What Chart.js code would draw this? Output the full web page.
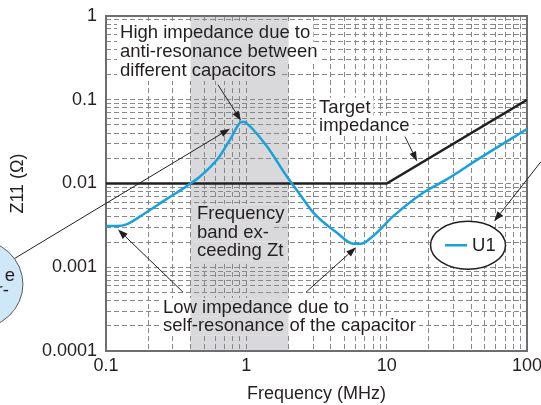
<!DOCTYPE html>
<html><head><meta charset="utf-8">
<script src="https://cdn.jsdelivr.net/npm/chart.js@4.4.1/dist/chart.umd.min.js"></script>
<style>html,body{margin:0;padding:0;background:#fff}#wrap{width:541px;height:405px}</style>
</head><body><div id="wrap"><canvas id="c" width="541" height="405"></canvas></div>
<script>
// ---- data ----
const freqU1 = [0.1, 0.12, 0.14, 0.185, 0.27, 0.376, 0.47, 0.63, 0.765, 0.90, 0.95, 1.03, 1.40, 1.94, 2.41, 3.0, 4.4, 5.8, 6.6, 8.0, 11.2, 18.3, 26.8, 46.3, 100];
const zU1    = [0.0031, 0.0031, 0.00325, 0.0043, 0.0065, 0.0093, 0.0122, 0.020, 0.0334, 0.0528, 0.0545, 0.0505, 0.0278, 0.0122, 0.0074, 0.0045, 0.0026, 0.00191, 0.00191, 0.00236, 0.0041, 0.0078, 0.0112, 0.0202, 0.0448];
const freqTarget = [0.1, 10, 100];
const zTarget    = [0.01, 0.01, 0.1];
const bandRange = [0.4, 2];
const xTickValues = [0.1,0.2,0.3,0.4,0.5,0.6,0.7,0.8,0.9,1,2,3,4,5,6,7,8,9,10,20,30,40,50,60,70,80,90,100];
const yTickValues = [0.0001,0.0002,0.0003,0.0004,0.0005,0.0006,0.0007,0.0008,0.0009,0.001,0.002,0.003,0.004,0.005,0.006,0.007,0.008,0.009,0.01,0.02,0.03,0.04,0.05,0.06,0.07,0.08,0.09,0.1,0.2,0.3,0.4,0.5,0.6,0.7,0.8,0.9,1];
const xTickLabels = ['0.1','1','10','100'];
const yTickLabels = ['0.0001','0.001','0.01','0.1','1'];
const seriesLabel = 'U1';

// ---- annotations (anchored in data coordinates) ----
const notes = [
  {lines:['High impedance due to','anti-resonance between','different capacitors'], at:[0.1259,0.547], lh:19},
  {lines:['Target','impedance'], at:[3.30,0.070], lh:18},
  {lines:['Frequency','band ex-','ceeding Zt'], at:[0.445,0.00373], lh:18.5},
  {lines:['Low impedance due to','self-resonance of the capacitor'], at:[0.2548,0.000283], lh:18}
];
const arrows = [
  {from:[0.628,0.151], to:[0.917,0.0562]},
  {from:[13.5,0.0363], to:[16.5,0.0183]},
  {from:[0.354,0.000504], to:[0.1218,0.00283]},
  {from:[2.665,0.000504], to:[6.05,0.00173]},
  {from:[0.0207,0.00118], to:[0.765,0.0452]},
  {from:[126,0.0183], to:[58.3,0.00353]}
];
const legendAt = [38.0, 0.00183];
const sideNoteAt = [0.01164, 0.000628];

const FONT = '"Liberation Sans", Arial, Helvetica, sans-serif';
const TXT = '#231f20';
const BLUE = '#17a2de';
const BAND = '#d9d9db';

function isDecade(v){ const l=Math.log10(v); return Math.abs(l-Math.round(l))<1e-9; }
function decadeLabel(v, list){ const idx = Math.round(Math.log10(v)) - Math.round(Math.log10(parseFloat(list[0]))); return list[idx] || ''; }

function px(chart, p){ return [chart.scales.x.getPixelForValue(p[0]), chart.scales.y.getPixelForValue(p[1])]; }

function boxes(chart){
  const ctx = chart.ctx; const out=[];
  ctx.save(); ctx.font = '18.5px ' + FONT;
  notes.forEach(n=>{
    const [x0,y0] = px(chart,n.at);
    n.lines.forEach((t,i)=>{
      const w = ctx.measureText(t).width;
      out.push({x:x0-3, y:y0+i*n.lh-15, w:w+6, h:n.lh+1});
    });
  });
  ctx.restore();
  return out;
}

const customDraw = {
  id:'customDraw',
  beforeDraw(chart){
    const {ctx, chartArea:a} = chart;
    const xs = chart.scales.x;
    const b0 = xs.getPixelForValue(bandRange[0]), b1 = xs.getPixelForValue(bandRange[1]);
    ctx.save(); ctx.fillStyle = BAND; ctx.fillRect(b0, a.top, b1-b0, a.bottom-a.top); ctx.restore();
  },
  beforeDatasetsDraw(chart){
    const {ctx, chartArea:a} = chart;
    const xs = chart.scales.x;
    const b0 = xs.getPixelForValue(bandRange[0]), b1 = xs.getPixelForValue(bandRange[1]);
    ctx.save();
    boxes(chart).forEach(r=>{
      ctx.fillStyle='#fff'; ctx.fillRect(r.x,r.y,r.w,r.h);
      const l=Math.max(r.x,b0), rr=Math.min(r.x+r.w,b1);
      if(rr>l){ ctx.fillStyle=BAND; ctx.fillRect(l,r.y,rr-l,r.h); }
    });
    ctx.strokeStyle='#6d6e71'; ctx.lineWidth=2;
    ctx.strokeRect(a.left, a.top, a.right-a.left, a.bottom-a.top);
    ctx.restore();
  },
  afterDraw(chart){
    const ctx = chart.ctx;
    ctx.save();
    // arrows
    ctx.strokeStyle='#231f20'; ctx.fillStyle='#231f20'; ctx.lineWidth=1;
    arrows.forEach(a=>{
      const [x1,y1]=px(chart,a.from), [x2,y2]=px(chart,a.to);
      const ang=Math.atan2(y2-y1,x2-x1), L=10, W=3.5;
      const bx=x2-L*Math.cos(ang), by=y2-L*Math.sin(ang);
      ctx.beginPath(); ctx.moveTo(x1,y1); ctx.lineTo(bx,by); ctx.stroke();
      ctx.beginPath(); ctx.moveTo(x2,y2);
      ctx.lineTo(bx+W*Math.sin(ang), by-W*Math.cos(ang));
      ctx.lineTo(bx-W*Math.sin(ang), by+W*Math.cos(ang));
      ctx.closePath(); ctx.fill();
    });
    // side note ellipse (partially off canvas)
    const [sx,sy]=px(chart,sideNoteAt);
    ctx.beginPath(); ctx.ellipse(sx,sy,48,45,0,0,Math.PI*2);
    ctx.fillStyle='#cfe8f7'; ctx.fill(); ctx.strokeStyle='#58595b'; ctx.lineWidth=1; ctx.stroke();
    ctx.fillStyle=TXT; ctx.font='18.5px '+FONT; ctx.textAlign='right'; ctx.textBaseline='alphabetic';
    ctx.fillText('e', sx+40, sy-3);
    ctx.fillText('r-', sx+34, sy+12);
    // texts
    ctx.textAlign='left';
    notes.forEach(n=>{
      const [x0,y0]=px(chart,n.at);
      n.lines.forEach((t,i)=>ctx.fillText(t,x0,y0+i*n.lh));
    });
    // legend ellipse
    const [lx,ly]=px(chart,legendAt);
    ctx.beginPath(); ctx.ellipse(lx,ly,37.5,24,0,0,Math.PI*2);
    ctx.fillStyle='#fff'; ctx.fill(); ctx.strokeStyle='#231f20'; ctx.lineWidth=1.5; ctx.stroke();
    const ds = chart.data.datasets[0];
    ctx.strokeStyle=ds.borderColor; ctx.lineWidth=2.5;
    ctx.beginPath(); ctx.moveTo(lx-23,ly); ctx.lineTo(lx-1,ly); ctx.stroke();
    ctx.fillStyle=TXT; ctx.textBaseline='middle'; ctx.fillText(ds.label, lx+4, ly+1);
    ctx.restore();
  }
};

new Chart(document.getElementById('c'), {
  type:'line',
  data:{datasets:[
    {label:seriesLabel, data:freqU1.map((f,i)=>({x:f,y:zU1[i]})), borderColor:BLUE, borderWidth:2.5, pointRadius:0, cubicInterpolationMode:'monotone', fill:false},
    {label:'Target impedance', data:freqTarget.map((f,i)=>({x:f,y:zTarget[i]})), borderColor:'#231f20', borderWidth:2.5, pointRadius:0, tension:0, fill:false}
  ]},
  options:{
    responsive:false, animation:false, devicePixelRatio:1,
    layout:{padding:{top:16,right:14,bottom:0,left:0}},
    plugins:{legend:{display:false}, tooltip:{enabled:false}},
    scales:{
      x:{type:'logarithmic', min:0.1, max:100,
        afterBuildTicks:s=>{s.ticks=xTickValues.map(v=>({value:v}));},
        afterFit:s=>{s.height=54; s.paddingLeft=0; s.paddingRight=0;},
        ticks:{autoSkip:false, maxRotation:0, minRotation:0, padding:4, color:TXT, font:{family:FONT,size:18},
          callback:v=>isDecade(v)?decadeLabel(v,xTickLabels):''},
        grid:{color:'#888888', lineWidth:1, drawTicks:false},
        border:{display:false, dash:[5,3]},
        title:{display:true, text:'Frequency (MHz)', color:TXT, font:{family:FONT,size:18}, padding:{top:0,bottom:0}}
      },
      y:{type:'logarithmic', min:0.0001, max:1,
        afterBuildTicks:s=>{s.ticks=yTickValues.map(v=>({value:v}));},
        afterFit:s=>{s.width=106; s.paddingTop=0; s.paddingBottom=0;},
        ticks:{autoSkip:false, padding:9, color:TXT, font:{family:FONT,size:18},
          callback:v=>isDecade(v)?decadeLabel(v,yTickLabels):''},
        grid:{color:'#888888', lineWidth:1, drawTicks:false},
        border:{display:false, dash:[5,3]},
        title:{display:true, text:'Z11 (Ω)', color:TXT, font:{family:FONT,size:18}, padding:{top:7,bottom:0}}
      }
    }
  },
  plugins:[customDraw]
});
</script></body></html>
